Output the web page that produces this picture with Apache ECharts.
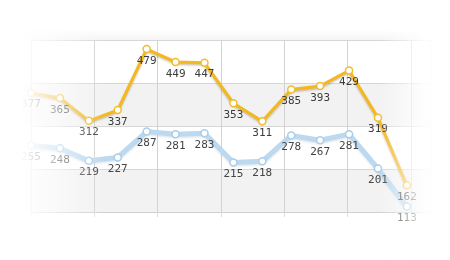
<!DOCTYPE html>
<html><head><meta charset="utf-8">
<script src="https://cdn.jsdelivr.net/npm/echarts@6/dist/echarts.min.js"></script>
<style>html,body{margin:0;padding:0;background:#fff}#c{width:450px;height:260px}</style>
</head><body><div id="c"></div>
<script>
var categories = [0,1,2,3,4,5,6,7,8,9,10,11,12,13];
var goldValues = [377, 365, 312, 337, 479, 449, 447, 353, 311, 385, 393, 429, 319, 162];
var blueValues = [255, 248, 219, 227, 287, 281, 283, 215, 218, 278, 267, 281, 201, 113];
var yTicks = [100, 200, 300, 400, 500];

function pairs(vals){ return vals.map(function(v,i){ return [categories[i], v]; }); }

var chart = echarts.init(document.getElementById('c'), null, {renderer:'canvas'});
var step = 2.19;
var labelStyle = {show:true, position:'bottom', distance:2, fontFamily:'DejaVu Sans Mono', fontSize:11, color:'#3c3c3c'};
chart.setOption({
  animation:false,
  grid:{left:31, right:20, top:40, bottom:48, containLabel:false},
  xAxis:{type:'value', min:0, max:13.8, interval:step,
    axisLine:{show:true, lineStyle:{color:'#cfcfcf'}},
    axisTick:{show:true, length:5, lineStyle:{color:'#dddddd'}},
    axisLabel:{show:false},
    splitLine:{show:true, lineStyle:{color:'#d2d2d2', width:1}}},
  yAxis:{type:'value', min:yTicks[0], max:yTicks[yTicks.length-1], interval:100,
    axisLine:{show:false}, axisTick:{show:false}, axisLabel:{show:false},
    splitLine:{show:true, lineStyle:{color:'#d6d6d6', width:1}},
    splitArea:{show:true, areaStyle:{color:['#f2f2f2','#ffffff']}}},
  series:[
    {type:'line', data:pairs(blueValues), symbol:'circle', symbolSize:7, clip:false,
      itemStyle:{color:'#ffffff', borderColor:'#a9cdea', borderWidth:1.5},
      lineStyle:{color:'#bcd9f0', width:5, shadowColor:'rgba(60,90,120,0.15)', shadowBlur:2, shadowOffsetY:1.5},
      label:Object.assign({}, labelStyle, {color:'#444'}), z:2},
    {type:'line', data:pairs(goldValues), symbol:'circle', symbolSize:7, clip:false,
      itemStyle:{color:'#ffffff', borderColor:'#f2bd2a', borderWidth:1.5},
      lineStyle:{color:'#f4b81e', width:3, shadowColor:'rgba(120,80,0,0.35)', shadowBlur:2, shadowOffsetY:1.5},
      label:labelStyle, z:3}
  ],
  graphic:[
    {type:'rect', shape:{x:10, y:30, width:430, height:10}, silent:true, z:0,
      style:{fill:{type:'linear', x:0, y:0, x2:0, y2:1, colorStops:[{offset:0,color:'rgba(0,0,0,0)'},{offset:1,color:'rgba(0,0,0,0.04)'}]}}},
    {type:'rect', shape:{x:15, y:83, width:16, height:43}, silent:true, z:0, style:{fill:'#f2f2f2'}},
    {type:'rect', shape:{x:15, y:169, width:16, height:43}, silent:true, z:0, style:{fill:'#f2f2f2'}},
    {type:'rect', shape:{x:0, y:0, width:105, height:260}, silent:true, z:100,
      style:{fill:{type:'linear', x:0, y:0, x2:1, y2:0, colorStops:[{offset:0,color:'rgba(255,255,255,1)'},{offset:0.19,color:'rgba(255,255,255,1)'},{offset:1,color:'rgba(255,255,255,0)'}]}}},
    {type:'rect', shape:{x:378, y:0, width:72, height:260}, silent:true, z:100,
      style:{fill:{type:'linear', x:0, y:0, x2:1, y2:0, colorStops:[{offset:0,color:'rgba(255,255,255,0)'},{offset:0.65,color:'rgba(255,255,255,0.9)'},{offset:1,color:'rgba(255,255,255,1)'}]}}}
  ]
});
</script></body></html>
